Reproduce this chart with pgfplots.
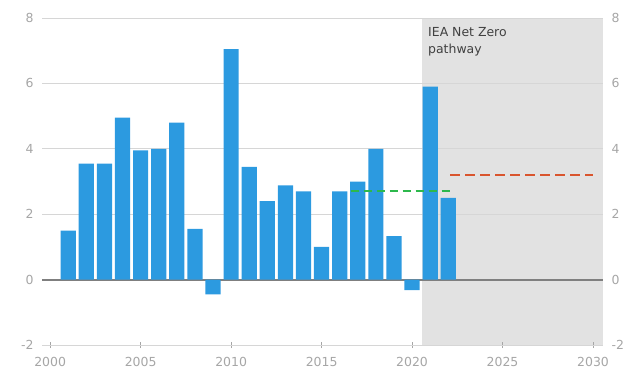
\documentclass[border=0pt]{standalone}
\usepackage{fontspec}
\setmainfont{DejaVu Sans}
\usepackage{pgfplots}
\pgfplotsset{compat=1.18}

\definecolor{barblue}{HTML}{2C9AE0}
\definecolor{zonegray}{HTML}{E2E2E2}
\definecolor{gridgray}{HTML}{D6D6D6}
\definecolor{zeroline}{HTML}{7F7F7F}
\definecolor{ticktext}{HTML}{A6A6A6}
\definecolor{pathred}{HTML}{D9552E}
\definecolor{avggreen}{HTML}{2DB84C}

\pgfplotstableread{
year value
2001 1.50
2002 3.55
2003 3.55
2004 4.95
2005 3.95
2006 4.00
2007 4.80
2008 1.55
2009 -0.45
2010 7.05
2011 3.45
2012 2.40
2013 2.88
2014 2.70
2015 1.00
2016 2.70
2017 3.00
2018 4.00
2019 1.33
2020 -0.32
2021 5.90
2022 2.50
}\growth

\begin{document}
\begin{tikzpicture}
\pgfplotsset{
  common/.style={
    scale only axis,
    width=561bp, height=327bp,
    xmin=1999.55, xmax=2030.55,
    ymin=-2, ymax=8,
    ytick={-2,0,2,4,6,8},
    /pgf/number format/assume math mode=true,
    /pgf/number format/1000 sep={},
    tick label style={font=\fontsize{12.5}{14}\selectfont, text=ticktext},
  }
}
\begin{axis}[
  common,
  name=ax,
  set layers,
  axis x line*=bottom,
  axis y line*=left,
  x axis line style={draw=gridgray, line width=0.8bp, -},
  y axis line style={draw=none},
  xtick={2000,2005,...,2030},
  xtick align=center,
  major tick length=6bp,
  x tick style={draw=ticktext, line width=0.6bp},
  y tick style={draw=none},
  yticklabels={},
  xticklabel style={yshift=-6bp},
  ymajorgrids,
  grid style={draw=gridgray, line width=0.8bp},
]
  \addplot[fill=zonegray, draw=none, on layer=axis background]
    coordinates {(2020.55,-2) (2030.55,-2) (2030.55,8) (2020.55,8)} -- cycle;
  \addplot[zeroline, line width=1.8bp, on layer=axis grid]
    coordinates {(1999.55,0) (2030.55,0)};
  \addplot[ybar, bar width=0.84, bar shift=0, fill=barblue, draw=none]
    table[x=year, y=value] {\growth};
  \addplot[avggreen, line width=2bp, dash pattern=on 8bp off 5bp]
    coordinates {(2016.6,2.7) (2022.1,2.7)};
  \addplot[pathred, line width=2.5bp, dash pattern=on 10bp off 5bp]
    coordinates {(2022.1,3.2) (2030.0,3.2)};
  \node[anchor=north west, align=left, inner sep=0pt, text=black!75,
        font=\fontsize{12.5}{17}\selectfont]
    at (axis cs:2020.88,7.72) {IEA Net Zero\\pathway};
\end{axis}
\begin{axis}[
  common,
  axis x line=none,
  axis y line*=left,
  y axis line style={draw=none},
  major tick length=0pt,
  yticklabel style={xshift=-5bp},
]
\end{axis}
\begin{axis}[
  common,
  axis x line=none,
  axis y line*=right,
  y axis line style={draw=none},
  major tick length=0pt,
  yticklabel style={xshift=5bp},
]
\end{axis}
\pgfresetboundingbox
\path[use as bounding box] ([shift={(-42bp,-27bp)}]ax.south west)
  rectangle ([shift={(27bp,18bp)}]ax.north east);
\end{tikzpicture}
\end{document}
